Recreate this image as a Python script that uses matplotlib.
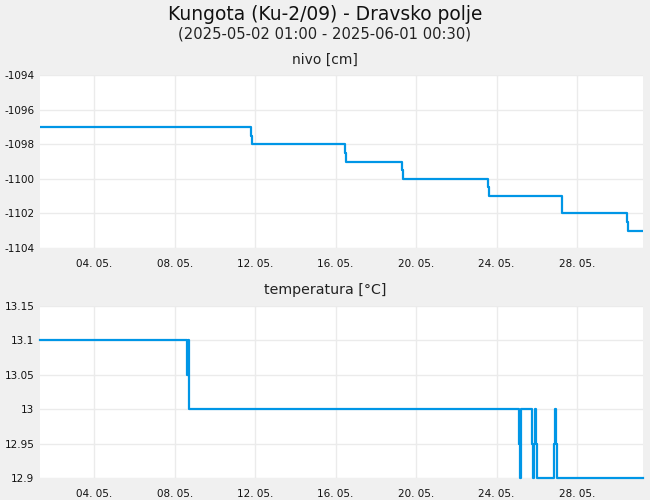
import matplotlib.pyplot as plt

# vrijeme u danima od 2025-05-02 01:00
nivo_t = [0.0, 10.47, 10.52, 15.18, 15.23, 18.02, 18.07, 22.29, 22.34, 25.97, 29.20, 29.25, 29.98]
nivo_v = [-1097, -1097.5, -1098, -1098.5, -1099, -1099.5, -1100, -1100.5, -1101, -1102, -1102.5, -1103, -1103]

temp_t = [0.0, 7.31, 7.35, 7.39, 7.43,
          23.83, 23.88, 23.90, 23.93,
          24.48, 24.53, 24.58, 24.60, 24.68, 24.71,
          25.57, 25.62, 25.67, 25.72, 29.98]
temp_v = [13.1, 13.05, 13.1, 13.05, 13.0,
          12.95, 12.9, 12.95, 13.0,
          12.95, 12.9, 12.95, 13.0, 12.95, 12.9,
          12.95, 13.0, 12.95, 12.9, 12.9]

x_ticks = [2.7, 6.7, 10.7, 14.7, 18.7, 22.7, 26.7]
x_labels = ["04. 05.", "08. 05.", "12. 05.", "16. 05.", "20. 05.", "24. 05.", "28. 05."]

nivo_ticks = [-1104, -1102, -1100, -1098, -1096, -1094]
temp_ticks = [12.9, 12.95, 13.0, 13.05, 13.1, 13.15]
temp_labels = ["12.9", "12.95", "13", "13.05", "13.1", "13.15"]

boja = "#0096e6"
pozadina = "#f0f0f0"

fig = plt.figure(figsize=(6.5, 5), dpi=100, facecolor=pozadina)
ax1 = fig.add_axes([40/650, 1-248/500, 603/650, 173/500])
ax2 = fig.add_axes([40/650, 1-478/500, 603/650, 172/500])

fig.text(0.5, 1-14/500, "Kungota (Ku-2/09) - Dravsko polje", ha="center", va="center", fontsize=13.4, color="#111111")
fig.text(0.5, 1-34/500, "(2025-05-02 01:00 - 2025-06-01 00:30)", ha="center", va="center", fontsize=10.6, color="#222222")
fig.text(0.5, 1-60/500, "nivo [cm]", ha="center", va="center", fontsize=10, color="#222222")
fig.text(0.5, 1-290/500, "temperatura [°C]", ha="center", va="center", fontsize=10.2, color="#222222")

ax1.plot(nivo_t, nivo_v, drawstyle="steps-post", color=boja, lw=1.6)
ax2.plot(temp_t, temp_v, drawstyle="steps-post", color=boja, lw=1.6, clip_on=False)

ax1.set_ylim(-1104, -1094)
ax1.set_yticks(nivo_ticks)
ax1.set_yticklabels([str(v) for v in nivo_ticks])
ax2.set_ylim(12.9, 13.15)
ax2.set_yticks(temp_ticks)
ax2.set_yticklabels(temp_labels)

for ax in (ax1, ax2):
    ax.set_facecolor("white")
    ax.set_xlim(0, 29.98)
    ax.set_xticks(x_ticks)
    ax.set_xticklabels(x_labels)
    for s in ax.spines.values():
        s.set_visible(False)
    ax.tick_params(length=0, labelsize=7.5, colors="#111111")
    ax.tick_params(axis="x", pad=8)
    ax.tick_params(axis="y", pad=4)
    ax.grid(True, color="#ebebeb", lw=1)
    ax.set_axisbelow(True)

fig.savefig("out.png", dpi=100, facecolor=pozadina)
